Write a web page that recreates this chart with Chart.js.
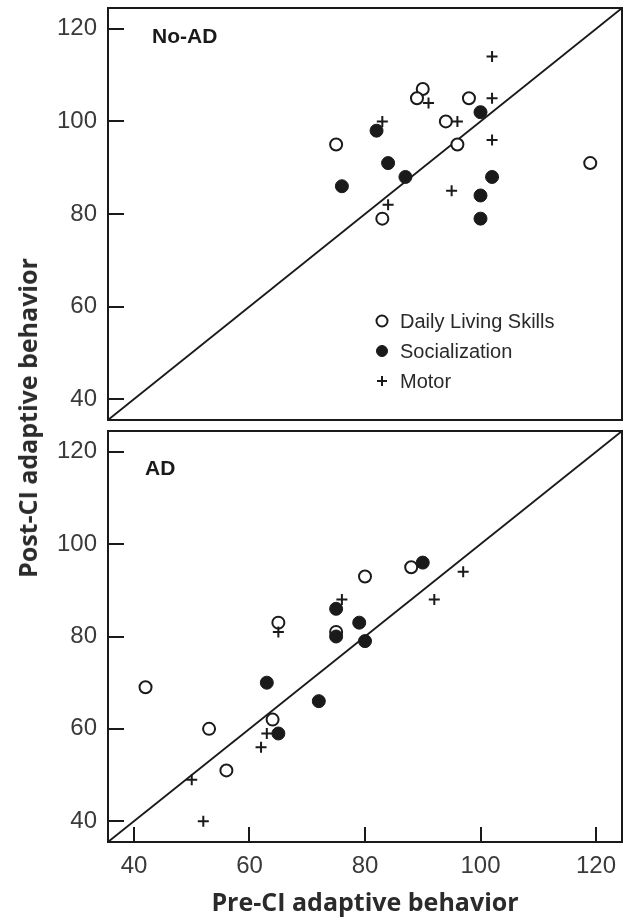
<!DOCTYPE html>
<html>
<head>
<meta charset="utf-8">
<script src="https://cdn.jsdelivr.net/npm/chart.js@4"></script>
<style>
  html, body { margin: 0; padding: 0; background: #fff; overflow: hidden; }
  #page { position: relative; width: 623px; height: 923px; }
  canvas { position: absolute; left: 0; display: block; }
  #ytitle {
    position: absolute; left: 27px; top: 418px;
    transform: translate(-50%, -50%) rotate(-90deg);
    font: bold 25px "Open Sans", sans-serif; color: #2b2b2b; white-space: nowrap;
  }
</style>
</head>
<body>
<div id="page">
  <canvas id="noAdChart" width="623" height="425" style="top:0"></canvas>
  <canvas id="adChart" width="623" height="498" style="top:425px"></canvas>
  <div id="ytitle">Post-CI adaptive behavior</div>
</div>
<script>
const seriesNames = ['Daily Living Skills', 'Socialization', 'Motor'];
const axisTicks = [40, 60, 80, 100, 120];
const axisMin = 35.5;
const axisMax = 124.5;

// No-AD group (pre-CI score, post-CI score)
const noAdDailyPre = [90, 89, 98, 94, 75, 96, 119, 83];
const noAdDailyPost = [107, 105, 105, 100, 95, 95, 91, 79];
const noAdSocialPre = [100, 82, 84, 87, 102, 76, 100, 100];
const noAdSocialPost = [102, 98, 91, 88, 88, 86, 84, 79];
const noAdMotorPre = [102, 102, 91, 83, 96, 102, 95, 84];
const noAdMotorPost = [114, 105, 104, 100, 100, 96, 85, 82];

// AD group
const adDailyPre = [80, 88, 65, 75, 42, 53, 64, 56];
const adDailyPost = [93, 95, 83, 81, 69, 60, 62, 51];
const adSocialPre = [90, 75, 79, 75, 80, 63, 72, 65];
const adSocialPost = [96, 86, 83, 80, 79, 70, 66, 59];
const adMotorPre = [97, 92, 76, 65, 63, 62, 50, 52];
const adMotorPost = [94, 88, 88, 81, 59, 56, 49, 40];

const INK = '#1a1a1a';
const TICK_FONT = { family: '"Liberation Sans", Arial, sans-serif', size: 24 };

function pairs(pre, post) {
    return pre.map((x, i) => ({ x: x, y: post[i] }));
}

function noPadding(s) {
    s.paddingTop = 0;
    s.paddingBottom = 0;
    s.paddingLeft = 0;
    s.paddingRight = 0;
}

// frame, inward ticks, panel label and in-plot legend
const framePlugin = {
    id: 'frame',
    afterDraw(chart, args, opts) {
        const ctx = chart.ctx;
        const a = chart.chartArea;
        const xs = chart.scales.x, ys = chart.scales.y;
        ctx.save();
        ctx.strokeStyle = INK;
        ctx.lineWidth = 2;
        ctx.strokeRect(a.left, a.top, a.right - a.left, a.bottom - a.top);
        ctx.beginPath();
        ys.ticks.forEach(t => {
            const py = Math.round(ys.getPixelForValue(t.value));
            ctx.moveTo(a.left, py);
            ctx.lineTo(a.left + 16, py);
        });
        if (opts.xTicks) {
            xs.ticks.forEach(t => {
                const px = Math.round(xs.getPixelForValue(t.value));
                ctx.moveTo(px, a.bottom);
                ctx.lineTo(px, a.bottom - 15);
            });
        }
        ctx.stroke();

        ctx.fillStyle = INK;
        ctx.font = 'bold 21px "Liberation Sans", Arial, sans-serif';
        ctx.textBaseline = 'middle';
        ctx.fillText(opts.label, a.left + opts.labelDx, a.top + opts.labelDy);

        if (opts.legend) {
            ctx.font = '20px "Liberation Sans", Arial, sans-serif';
            chart.data.datasets.forEach((ds, i) => {
                if (!ds.label) return;
                const lx = a.left + opts.legendDx;
                const ly = a.top + opts.legendDy + i * 30;
                ctx.fillStyle = ds.backgroundColor;
                ctx.strokeStyle = ds.borderColor;
                ctx.lineWidth = ds.borderWidth;
                Chart.helpers.drawPoint(ctx, {
                    pointStyle: ds.pointStyle, rotation: 0,
                    radius: ds.pointStyle === 'cross' ? 5 : 5.5,
                    borderWidth: ds.borderWidth
                }, lx, ly);
                ctx.fillStyle = '#2a2a2a';
                ctx.fillText(ds.label, lx + 18, ly + 1);
            });
        }
        ctx.restore();
    }
};

function makeChart(canvasId, daily, social, motor, frameOpts, isBottom) {
    const ctx = document.getElementById(canvasId).getContext('2d');
    return new Chart(ctx, {
        type: 'scatter',
        data: {
            datasets: [
                {
                    label: seriesNames[0],
                    data: daily,
                    pointStyle: 'circle',
                    pointRadius: 6,
                    backgroundColor: '#ffffff',
                    borderColor: INK,
                    borderWidth: 2,
                    order: 3
                },
                {
                    label: seriesNames[1],
                    data: social,
                    pointStyle: 'circle',
                    pointRadius: 6.5,
                    backgroundColor: INK,
                    borderColor: INK,
                    borderWidth: 1,
                    order: 2
                },
                {
                    label: seriesNames[2],
                    data: motor,
                    pointStyle: 'cross',
                    pointRadius: 5.5,
                    backgroundColor: INK,
                    borderColor: INK,
                    borderWidth: 2,
                    order: 1
                },
                {
                    // line of identity (post = pre) across the axis range
                    label: '',
                    data: [{ x: axisMin, y: axisMin }, { x: axisMax, y: axisMax }],
                    showLine: true,
                    pointRadius: 0,
                    borderColor: INK,
                    borderWidth: 1.8,
                    order: 4
                }
            ]
        },
        options: {
            responsive: false,
            devicePixelRatio: 1,
            animation: false,
            events: [],
            layout: {
                autoPadding: false,
                padding: isBottom ? { top: 6, right: 1, bottom: 0, left: 0 }
                                  : { top: 8, right: 1, bottom: 5, left: 0 }
            },
            plugins: {
                legend: { display: false },
                tooltip: { enabled: false },
                frame: frameOpts
            },
            scales: {
                x: {
                    type: 'linear',
                    display: isBottom,
                    min: axisMin,
                    max: axisMax,
                    afterBuildTicks: s => { s.ticks = axisTicks.map(v => ({ value: v })); },
                    afterFit: s => { s.height = isBottom ? 81 : 0; noPadding(s); },
                    grid: { display: false, drawTicks: false },
                    border: { display: false },
                    ticks: { padding: 10, maxRotation: 0, color: '#3a3a3a', font: TICK_FONT },
                    title: {
                        display: true,
                        text: 'Pre-CI adaptive behavior',
                        color: '#2b2b2b',
                        font: { family: '"Open Sans", sans-serif', size: 25, weight: 'bold' },
                        padding: { top: 0, bottom: 4 }
                    }
                },
                y: {
                    type: 'linear',
                    min: axisMin,
                    max: axisMax,
                    afterBuildTicks: s => { s.ticks = axisTicks.map(v => ({ value: v })); },
                    afterFit: s => { s.width = 108; noPadding(s); },
                    grid: { display: false, drawTicks: false },
                    border: { display: false },
                    ticks: { padding: 11, color: '#3a3a3a', font: TICK_FONT }
                }
            }
        },
        plugins: [framePlugin]
    });
}

makeChart('noAdChart',
    pairs(noAdDailyPre, noAdDailyPost),
    pairs(noAdSocialPre, noAdSocialPost),
    pairs(noAdMotorPre, noAdMotorPost),
    { xTicks: false, label: 'No-AD', labelDx: 44, labelDy: 29, legend: true, legendDx: 274, legendDy: 313 },
    false);

makeChart('adChart',
    pairs(adDailyPre, adDailyPost),
    pairs(adSocialPre, adSocialPost),
    pairs(adMotorPre, adMotorPost),
    { xTicks: true, label: 'AD', labelDx: 37, labelDy: 38, legend: false },
    true);
</script>
</body>
</html>
